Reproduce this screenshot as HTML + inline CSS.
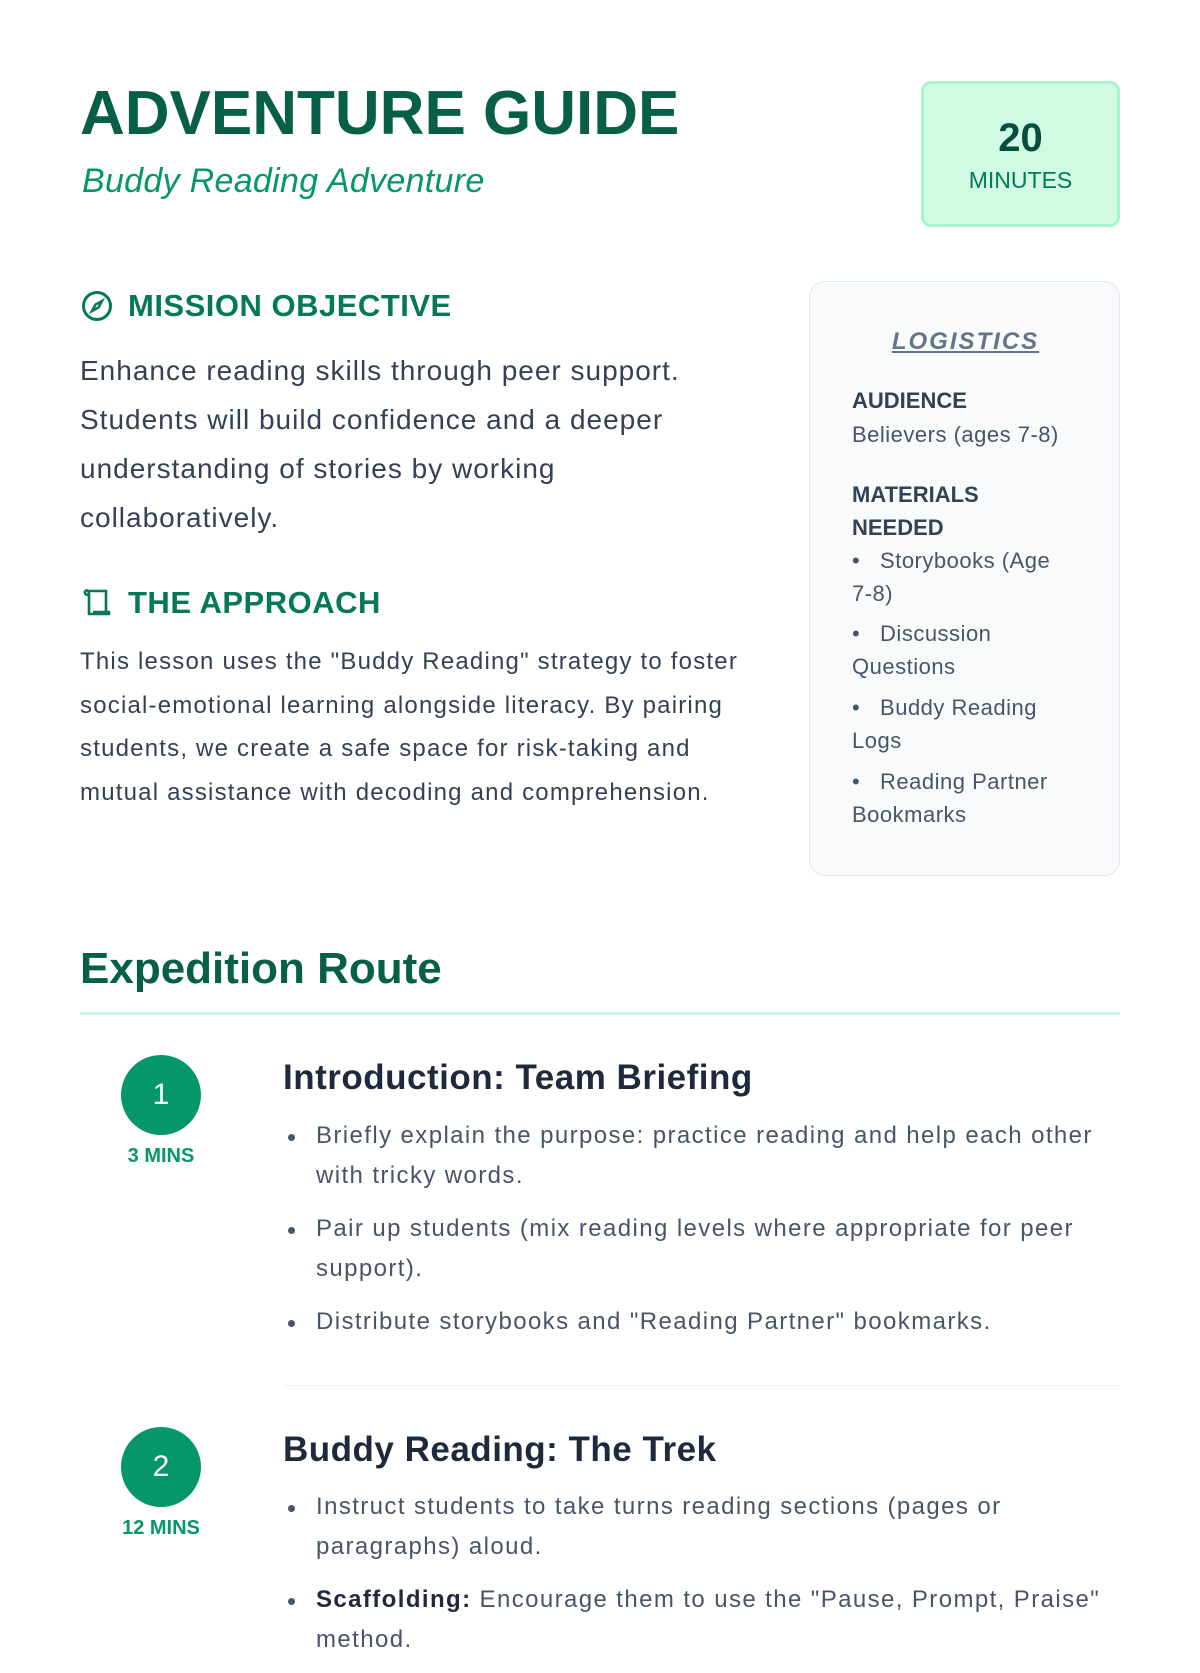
<!DOCTYPE html>
<html><head><meta charset="utf-8"><style>
*{margin:0;padding:0;box-sizing:border-box}
body{width:1200px;height:1600px;overflow:hidden;background:#fff;font-family:"Liberation Sans",sans-serif;color:#334155;position:relative}
.a{position:absolute;white-space:nowrap}
h1{position:absolute;left:80px;top:78px;font-size:62px;font-weight:bold;color:#065f46;white-space:nowrap}
.sub{left:82px;top:162px;font-size:34px;font-style:italic;color:#059669;letter-spacing:0.3px}
.time{position:absolute;left:921px;top:81px;width:199px;height:146px;background:#d1fae5;border:3px solid #a7f3d0;border-radius:10px;text-align:center}
.time b{display:block;margin-top:32px;font-size:40px;color:#064e3b}
.time span{display:block;margin-top:6px;font-size:23px;color:#047857}
.h2{font-size:31px;font-weight:bold;color:#047857;left:128px;letter-spacing:0.5px}
.p1{left:80px;top:346px;font-size:28px;line-height:49px;color:#334155;letter-spacing:1px}
.p2{left:80px;top:640px;font-size:24px;line-height:43.6px;color:#334155;letter-spacing:1.2px}
.card{position:absolute;left:809px;top:281px;width:311px;height:595px;background:#f8fafc;border:1.5px solid #e2e8f0;border-radius:16px}
.lg{left:0;width:311px;text-align:center;top:46px;font-size:24px;font-weight:bold;font-style:italic;color:#64748b;text-decoration:underline;letter-spacing:2px}
.card .k{left:42px;font-size:22px;font-weight:bold;color:#334155;line-height:33px}
.card .v{left:42px;font-size:22px;color:#475569;line-height:33.3px;letter-spacing:0.5px}
.er{left:80px;top:944px;font-size:44px;font-weight:bold;color:#065f46}
.rule{position:absolute;left:80px;top:1012px;width:1040px;height:3px;background:#ccf5e4}
.circ{position:absolute;left:121px;width:80px;height:80px;border-radius:50%;background:#059669;color:#fff;font-size:30px;text-align:center;line-height:80px}
.mins{font-size:20px;font-weight:bold;color:#059669;width:160px;left:81px;text-align:center}
.st{left:283px;font-size:35px;font-weight:bold;color:#1e293b;letter-spacing:0.5px}
ul.b{position:absolute;left:283px;width:850px;list-style:none;font-size:24px;line-height:40px;color:#475569;letter-spacing:1.4px;white-space:nowrap}
ul.b li{position:relative;padding-left:33px;margin-bottom:13px}
ul.b li:before{content:"";position:absolute;left:5px;top:18px;width:7px;height:7px;border-radius:50%;background:#475569}
.div{position:absolute;left:283px;top:1385px;width:837px;height:1px;background:#eef0f2}
</style></head><body>
<h1>ADVENTURE GUIDE</h1>
<div class="a sub">Buddy Reading Adventure</div>
<div class="time"><b>20</b><span>MINUTES</span></div>

<svg class="a" style="left:81px;top:290px" width="32" height="32" viewBox="0 0 32 32"><circle cx="16" cy="16" r="13.5" fill="none" stroke="#047857" stroke-width="3"/><path d="M21 11 L17.5 17.5 L11 21 L14.5 14.5 Z" fill="none" stroke="#047857" stroke-width="2.5"/></svg>
<div class="a h2" style="top:288px">MISSION OBJECTIVE</div>
<div class="a p1">Enhance reading skills through peer support.<br>Students will build confidence and a deeper<br>understanding of stories by working<br>collaboratively.</div>

<svg class="a" style="left:81px;top:587px" width="32" height="32" viewBox="0 0 32 32"><path d="M8 4 H25 V25 M4 4 Q8 2 8 8 V27 H28 V25 H12" fill="none" stroke="#047857" stroke-width="2.6" stroke-linejoin="round"/><path d="M4 4 Q3 8 8 8" fill="none" stroke="#047857" stroke-width="2.6"/></svg>
<div class="a h2" style="top:585px">THE APPROACH</div>
<div class="a p2">This lesson uses the "Buddy Reading" strategy to foster<br>social-emotional learning alongside literacy. By pairing<br>students, we create a safe space for risk-taking and<br>mutual assistance with decoding and comprehension.</div>

<div class="card">
<div class="a lg">LOGISTICS</div>
<div class="a k" style="top:102px">AUDIENCE</div>
<div class="a v" style="top:136px">Believers (ages 7-8)</div>
<div class="a k" style="top:196px">MATERIALS<br>NEEDED</div>
<div class="a v" style="top:262px">•&nbsp;&nbsp;&nbsp;Storybooks (Age<br>7-8)</div>
<div class="a v" style="top:335px">•&nbsp;&nbsp;&nbsp;Discussion<br>Questions</div>
<div class="a v" style="top:409px">•&nbsp;&nbsp;&nbsp;Buddy Reading<br>Logs</div>
<div class="a v" style="top:483px">•&nbsp;&nbsp;&nbsp;Reading Partner<br>Bookmarks</div>
</div>

<div class="a er">Expedition Route</div>
<div class="rule"></div>

<div class="circ" style="top:1055px">1</div>
<div class="a mins" style="top:1145px">3 MINS</div>
<div class="a st" style="top:1058px">Introduction: Team Briefing</div>
<ul class="b" style="top:1116px">
<li>Briefly explain the purpose: practice reading and help each other<br>with tricky words.</li>
<li>Pair up students (mix reading levels where appropriate for peer<br>support).</li>
<li>Distribute storybooks and "Reading Partner" bookmarks.</li>
</ul>
<div class="div"></div>

<div class="circ" style="top:1427px">2</div>
<div class="a mins" style="top:1517px">12 MINS</div>
<div class="a st" style="top:1430px">Buddy Reading: The Trek</div>
<ul class="b" style="top:1487px">
<li>Instruct students to take turns reading sections (pages or<br>paragraphs) aloud.</li>
<li><b style="color:#1e293b">Scaffolding:</b> Encourage them to use the "Pause, Prompt, Praise"<br>method.</li>
</ul>
</body></html>
